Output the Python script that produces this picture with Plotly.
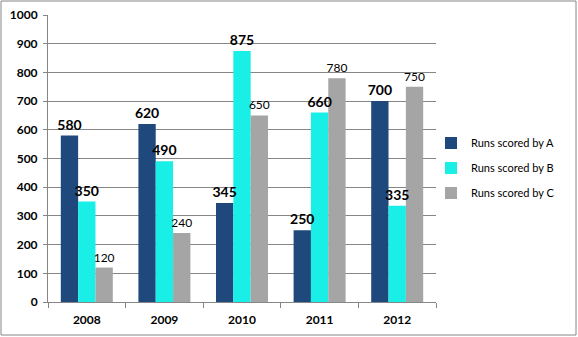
import plotly.graph_objects as go

years = ["2008", "2009", "2010", "2011", "2012"]
runs_a = [580, 620, 345, 250, 700]
runs_b = [350, 490, 875, 660, 335]
runs_c = [120, 240, 650, 780, 750]
y_ticks = [0, 100, 200, 300, 400, 500, 600, 700, 800, 900, 1000]

FONT = "Lato"
W, H = 578, 337
L, R, T, B = 48, 142, 15, 35
pw, ph = W - L - R, H - T - B

fig = go.Figure()
series = [
    ("Runs scored by A", runs_a, "#1F497D", True, 14),
    ("Runs scored by B", runs_b, "#19EFE6", True, 14),
    ("Runs scored by C", runs_c, "#A5A5A5", False, 12),
]
# visible bars
for i, (name, vals, col, bold, fs) in enumerate(series):
    fig.add_trace(go.Bar(
        x=years, y=vals, name=name, marker_color=col, marker_line_width=0,
        legendgroup=f"g{i}", xaxis="x", yaxis="y",
    ))
# transparent duplicate bars on an overlay axis carrying the labels, so text sits on top
for i, (name, vals, col, bold, fs) in enumerate(series):
    fig.add_trace(go.Bar(
        x=years, y=vals, name=name, marker_color="rgba(0,0,0,0)", marker_line_width=0,
        text=[f"<b>{v}</b>" if bold else str(v) for v in vals],
        textposition="outside", constraintext="none", cliponaxis=False,
        textfont=dict(family=FONT, size=fs, color="black"),
        showlegend=False, hoverinfo="skip", xaxis="x2", yaxis="y2",
    ))

fig.update_layout(
    width=W, height=H, margin=dict(l=L, r=R, t=T, b=B, pad=0, autoexpand=False),
    paper_bgcolor="white", plot_bgcolor="white",
    barmode="group", bargap=0.33, bargroupgap=0,
    font=dict(family=FONT, size=11, color="black"),
    showlegend=True,
    legend=dict(xref="container", yref="container", x=431 / W, xanchor="left",
                y=1 - 168 / H, yanchor="middle",
                font=dict(family=FONT, size=11, color="black"),
                tracegroupgap=6, bgcolor="rgba(0,0,0,0)", itemwidth=30),
    xaxis=dict(type="category", showline=True, linecolor="#868686", linewidth=1,
               ticks="outside", tickson="boundaries", ticklen=5, tickcolor="#868686",
               ticklabelstandoff=7,
               tickfont=dict(family=FONT, size=12, color="black", weight="bold"),
               showgrid=False),
    yaxis=dict(range=[0, 1000], tickvals=y_ticks, showline=True, linecolor="#868686",
               linewidth=1, ticks="outside", ticklen=4, tickcolor="#868686",
               ticklabelstandoff=3,
               gridcolor="#868686", gridwidth=1, zeroline=False,
               tickfont=dict(family=FONT, size=12, color="black", weight="bold")),
    xaxis2=dict(type="category", overlaying="x", matches="x", visible=False),
    yaxis2=dict(range=[0, 1000], overlaying="y", visible=False),
)

# outer chart border (1px inside the figure edges)
fig.add_shape(type="rect", xref="paper", yref="paper",
              x0=(1 - L) / pw, x1=(W - 2 - L) / pw,
              y0=-(B - 2) / ph, y1=1 + (T - 1) / ph,
              line=dict(color="#868686", width=1), fillcolor="rgba(0,0,0,0)")

fig.write_html("out.html")
